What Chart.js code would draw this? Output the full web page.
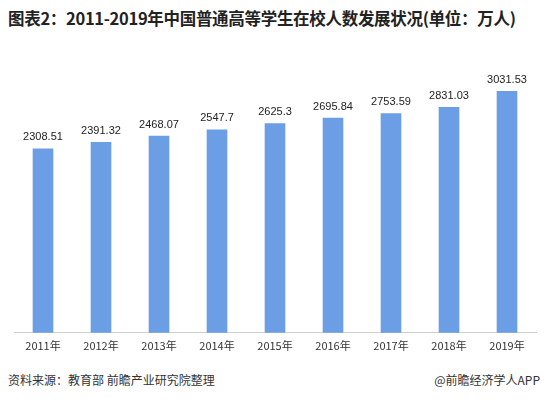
<!DOCTYPE html>
<html><head><meta charset="utf-8">
<script src="https://cdn.jsdelivr.net/npm/chart.js@4"></script>
<style>
body{margin:0;width:548px;height:400px;background:#fff;font-family:"Noto Sans CJK SC","Noto Sans",sans-serif;position:relative;overflow:hidden}
#title{position:absolute;left:8px;top:6px;font-size:16.5px;font-weight:bold;color:#222;white-space:nowrap;letter-spacing:-0.3px}
#wrap{position:absolute;left:0;top:40px;width:548px;height:318px}
#src{position:absolute;left:8px;top:371px;font-size:12px;color:#333}
#app{position:absolute;right:8px;top:371px;font-size:12px;color:#333}
</style></head><body>
<div id="title">图表2：2011-2019年中国普通高等学生在校人数发展状况(单位：万人)</div>
<div id="wrap"><canvas id="c"></canvas></div>
<div id="src">资料来源：教育部 前瞻产业研究院整理</div>
<div id="app">@前瞻经济学人APP</div>
<script>
const years = ['2011年','2012年','2013年','2014年','2015年','2016年','2017年','2018年','2019年'];
const students = [2308.51,2391.32,2468.07,2547.7,2625.3,2695.84,2753.59,2831.03,3031.53];
const valueLabels = ['2308.51','2391.32','2468.07','2547.7','2625.3','2695.84','2753.59','2831.03','3031.53'];

const labelPlugin = {
  id: 'vals',
  afterDatasetsDraw(chart) {
    const ctx = chart.ctx;
    ctx.save();
    ctx.font = '11px "Liberation Sans", Arial, sans-serif';
    ctx.fillStyle = '#222';
    ctx.textAlign = 'center';
    ctx.textBaseline = 'bottom';
    chart.getDatasetMeta(0).data.forEach((bar, i) => {
      ctx.fillText(valueLabels[i], bar.x, bar.y - 6);
    });
    ctx.restore();
  }
};

new Chart(document.getElementById('c'), {
  type: 'bar',
  data: {
    labels: years,
    datasets: [{
      data: students,
      backgroundColor: '#6c9ee6',
      barThickness: 20
    }]
  },
  options: {
    responsive: true,
    maintainAspectRatio: false,
    animation: false,
    layout: { padding: { left: 14, right: 12, top: 14 } },
    plugins: { legend: { display: false }, tooltip: { enabled: false } },
    scales: {
      x: {
        grid: { display: false, drawTicks: false },
        border: { color: '#cfcfcf' },
        ticks: { color: '#333', font: { size: 11, family: '"Noto Sans CJK SC", sans-serif' }, padding: 6, maxRotation: 0 }
      },
      y: {
        display: false,
        min: 0,
        max: 3500
      }
    }
  },
  plugins: [labelPlugin]
});
</script>
</body></html>
